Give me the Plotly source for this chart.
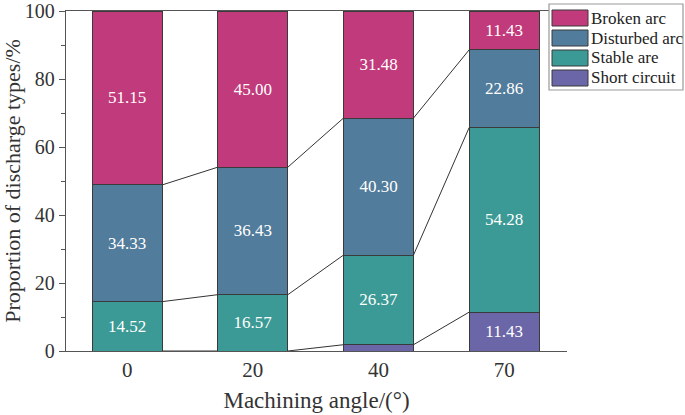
import plotly.graph_objects as go
import numpy as np

angles = ["0", "20", "40", "70"]
series_names = ["Short circuit", "Stable are", "Disturbed arc", "Broken arc"]
short_circuit = [0.0, 0.0, 1.85, 11.43]
stable_arc = [14.52, 16.57, 26.37, 54.28]
disturbed_arc = [34.33, 37.50, 40.30, 22.86]
broken_arc = [51.15, 45.93, 31.48, 11.43]
short_labels = ["", "", "", "11.43"]
stable_labels = ["14.52", "16.57", "26.37", "54.28"]
disturbed_labels = ["34.33", "36.43", "40.30", "22.86"]
broken_labels = ["51.15", "45.00", "31.48", "11.43"]

colors = ["#6B66A8", "#3B9A95", "#527C9B", "#C13A7B"]
serif = "Liberation Serif, Times New Roman, serif"
xpos = np.arange(len(angles))
bar_w = 0.557

W, H = 685, 415
plot_l, plot_r, plot_t, plot_b = 66, 567, 11, 351
pw = plot_r - plot_l
ph = plot_b - plot_t


def fx(x):
    return (x - plot_l) / pw


def fy(y):
    return (plot_b - y) / ph


fig = go.Figure()
series = [short_circuit, stable_arc, disturbed_arc, broken_arc]
labels = [short_labels, stable_labels, disturbed_labels, broken_labels]
for name, vals, lab, col in zip(series_names, series, labels, colors):
    fig.add_trace(go.Bar(
        x=xpos, y=vals, name=name, width=bar_w,
        marker=dict(color=col, line=dict(color="#3a3a3a", width=1)),
        text=lab, textposition="inside", insidetextanchor="middle",
        textangle=0, textfont=dict(family=serif, size=17, color="white"),
        showlegend=False, hoverinfo="skip",
    ))

# connecting lines between cumulative tops of adjacent bars
cum = np.cumsum(np.array(series[:3]), axis=0)
for level in cum:
    xs, ys = [], []
    for i in range(len(angles) - 1):
        xs += [xpos[i] + bar_w / 2, xpos[i + 1] - bar_w / 2, None]
        ys += [level[i], level[i + 1], None]
    fig.add_trace(go.Scatter(x=xs, y=ys, mode="lines",
                             line=dict(color="#333333", width=1),
                             showlegend=False, hoverinfo="skip"))

# legend drawn as boxed swatches
legend_order = list(zip(series_names, colors))[::-1]
row_y = [10, 30, 50, 70]
fig.add_shape(type="rect", xref="paper", yref="paper",
              x0=fx(549), x1=fx(683), y0=fy(90), y1=fy(4),
              line=dict(color="#999999", width=1.2), fillcolor="white", layer="above")
for (name, col), yy in zip(legend_order, row_y):
    fig.add_shape(type="rect", xref="paper", yref="paper",
                  x0=fx(552), x1=fx(588), y0=fy(yy + 16), y1=fy(yy),
                  line=dict(color="#3a3a3a", width=1), fillcolor=col, layer="above")
    fig.add_annotation(xref="paper", yref="paper", x=fx(589), y=fy(yy + 8),
                       text=name, showarrow=False, xanchor="left", yanchor="middle",
                       font=dict(family=serif, size=17, color="#222222"))

fig.update_layout(
    width=W, height=H,
    margin=dict(l=plot_l, r=W - plot_r, t=plot_t, b=H - plot_b, autoexpand=False),
    paper_bgcolor="white", plot_bgcolor="white",
    barmode="stack", bargap=0,
    font=dict(family=serif, color="#333333"),
)
fig.update_xaxes(
    range=[-0.487, 3.5], tickvals=xpos, ticktext=angles,
    showline=True, linecolor="#555555", linewidth=1.2, mirror=True,
    ticks="", showgrid=False, zeroline=False, automargin=False,
    tickfont=dict(family=serif, size=21, color="#333333"),
    title=dict(text="Machining angle/(°)", font=dict(family=serif, size=23, color="#333333"), standoff=10),
)
fig.update_yaxes(
    range=[0, 100], tickvals=[0, 20, 40, 60, 80, 100],
    showline=True, linecolor="#555555", linewidth=1.2,
    ticks="outside", ticklen=6, tickcolor="#555555",
    minor=dict(ticks="outside", ticklen=4, dtick=10, tickcolor="#555555", showgrid=False),
    showgrid=False, zeroline=False, automargin=False, ticklabeloverflow="allow",
    tickfont=dict(family=serif, size=20, color="#333333"),
    title=dict(text="Proportion of discharge types/%", font=dict(family=serif, size=22, color="#333333"), standoff=5),
)
fig.write_html("out.html", config={"displayModeBar": False, "staticPlot": True},
               post_script="document.body.style.margin='0';document.body.style.overflow='hidden';")
